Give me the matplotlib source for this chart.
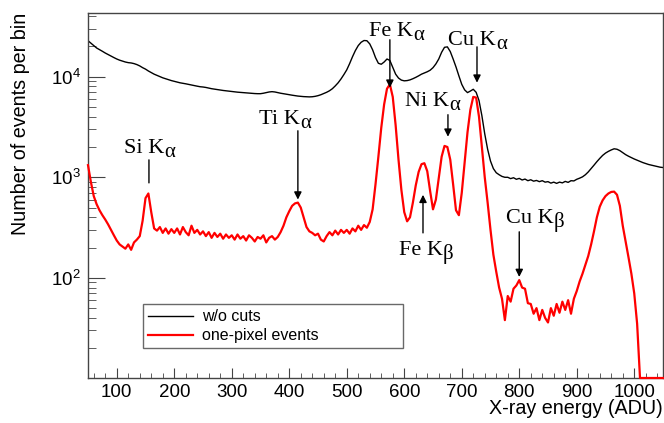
import numpy as np
import matplotlib
matplotlib.use("Agg")
import matplotlib.pyplot as plt
from matplotlib.ticker import MultipleLocator, LogLocator, NullFormatter, FixedLocator
from matplotlib.transforms import offset_copy

plt.rcParams['font.family'] = 'Liberation Sans'
plt.rcParams['mathtext.fontset'] = 'custom'
plt.rcParams['mathtext.rm'] = 'Liberation Sans'

# bin centres (ADU), 5 ADU per bin
energy = np.arange(50, 1051, 5)

# w/o cuts (black)
all_events = [
    22800, 21600, 20400, 19300, 18600, 17900, 17200, 16600, 16000, 15500,
    15000, 14600, 14300, 14000, 13800, 13700, 13500, 13200, 12800, 12300,
    11900, 11400, 11000, 10600, 10300, 10000, 9750, 9550, 9350, 9150,
    9000, 8850, 8700, 8600, 8500, 8380, 8250, 8150, 8050, 7950,
    7900, 7820, 7700, 7600, 7520, 7440, 7380, 7300, 7240, 7180,
    7120, 7070, 7020, 6980, 6940, 6900, 6860, 6830, 6800, 6780,
    6780, 6850, 6950, 7050, 7100, 7050, 6950, 6850, 6780, 6700,
    6620, 6550, 6480, 6420, 6380, 6340, 6320, 6300, 6320, 6380,
    6480, 6620, 6800, 7000, 7250, 7600, 8100, 8700, 9500, 10500,
    11700, 13500, 15800, 18200, 20400, 22000, 22900, 22800, 21200, 18500,
    15500, 13600, 13300, 14000, 15000, 14500, 12400, 10600, 9700, 9250,
    9100, 9150, 9300, 9550, 9850, 10200, 10600, 10900, 11200, 11600,
    12300, 13400, 15000, 17500, 19600, 19800, 17800, 15000, 12500, 10200,
    8400, 7400, 6950, 7200, 7500, 7000, 5800, 4100, 2700, 1900,
    1450, 1220, 1110, 1060, 1020, 1000, 1000, 970, 990, 955,
    975, 940, 960, 925, 945, 915, 930, 905, 925, 895,
    905, 875, 895, 870, 895, 880, 910, 890, 925, 920,
    955, 980, 1010, 1060, 1130, 1220, 1320, 1430, 1540, 1650,
    1740, 1810, 1870, 1920, 1900, 1840, 1760, 1680, 1620, 1570,
    1520, 1480, 1440, 1400, 1370, 1340, 1320, 1300, 1280, 1260,
    1250]

# one-pixel events (red)
one_pixel = [
    1320, 900, 650, 540, 470, 420, 380, 340, 300, 265,
    235, 215, 205, 195, 215, 190, 225, 240, 260, 370,
    620, 690, 450, 310, 295, 320, 280, 310, 275, 305,
    280, 310, 270, 320, 285, 265, 330, 280, 300, 270,
    290, 260, 285, 250, 280, 255, 275, 245, 270, 250,
    265, 240, 270, 245, 260, 235, 265, 250, 230, 255,
    245, 265, 225, 250, 260, 240, 255, 285, 330, 400,
    460, 520, 550, 560, 500, 400, 320, 290, 280, 265,
    275, 240, 230, 260, 285, 265, 295, 270, 300, 280,
    300, 275, 310, 290, 330, 300, 335, 315, 360, 480,
    850, 1600, 3100, 5300, 7600, 8400, 6300, 3300, 1500, 750,
    450, 365, 400, 560, 830, 1130, 1350, 1380, 1150, 730,
    480, 600, 980, 1600, 2050, 2000, 1500, 850, 470, 420,
    700, 1400, 2800, 4700, 6300, 6200, 4000, 2000, 1000, 560,
    300, 170, 115, 80, 62, 38, 66, 58, 78, 84,
    95, 80, 78, 56, 55, 44, 50, 38, 48, 40,
    36, 50, 42, 55, 45, 58, 48, 60, 44, 62,
    74, 92, 110, 135, 165, 215, 290, 400, 510, 590,
    650, 690, 715, 720, 670, 520, 330, 230, 160, 110,
    70, 35, 0, 0, 0, 0, 0, 0, 0, 0,
    0]

# line labels: (name, greek, K|greek junction x, baseline y, arrow x, tail y, tip y, head)
labels = [
    ("Si K", "\u03b1", 182, 1750, 156, 1490, 880, False),
    ("Ti K", "\u03b1", 418.7, 3400, 415, 2900, 600, True),
    ("Fe K", "\u03b1", 615, 25600, 575, 23300, 7770, True),
    ("Cu K", "\u03b1", 759.6, 20800, 726.5, 19800, 8720, True),
    ("Ni K", "\u03b1", 678, 5140, 676, 4190, 2530, True),
    ("Fe K", "\u03b2", 667, 170, 632.6, 280, 670, True),
    ("Cu K", "\u03b2", 860, 352, 800, 287, 102, True),
]

ymin, ymax = 10.1, 43000

fig = plt.figure(figsize=(6.64, 4.23), dpi=100)
ax = fig.add_axes([88/664, 45/423, 575/664, 365/423])

ax.plot(energy, all_events, color='k', lw=1.0, label='w/o cuts')
red = np.array(one_pixel, dtype=float)
red = np.where(red <= 0, ymin, red)
ax.plot(energy, red, color='#ff0000', lw=1.6, label='one-pixel events',
        clip_on=False, zorder=3)

ax.set_yscale('log')
ax.set_xlim(50, 1050)
ax.set_ylim(ymin, ymax)

sub = offset_copy(ax.transData, fig=fig, x=0, y=-4, units='dots')
for name, greek, jx, ty, axx, y0, y1, head in labels:
    ax.text(jx, ty, name, ha='right', va='baseline', fontsize=16,
            family='Liberation Serif')
    ax.text(jx, ty, greek, ha='left', va='baseline', fontsize=15,
            family='Liberation Serif', transform=sub)
    ax.annotate("", xy=(axx, y1), xytext=(axx, y0),
                arrowprops=dict(arrowstyle='-|>' if head else '-',
                                color='k', lw=1.0, mutation_scale=11,
                                shrinkA=0, shrinkB=0))

ax.xaxis.set_major_locator(FixedLocator(np.arange(100, 1001, 100)))
ax.xaxis.set_minor_locator(MultipleLocator(20))
ax.yaxis.set_major_locator(LogLocator(base=10, numticks=10))
ax.yaxis.set_minor_locator(LogLocator(base=10, subs=np.arange(2, 10), numticks=20))
ax.yaxis.set_minor_formatter(NullFormatter())

ax.tick_params(axis='both', which='both', direction='in', top=False,
               right=False, color='#444444', labelsize=13.5)
ax.tick_params(axis='x', which='major', length=7.2, pad=4)
ax.tick_params(axis='x', which='minor', length=3.6)
ax.tick_params(axis='y', which='major', length=12, pad=5)
ax.tick_params(axis='y', which='minor', length=6)
for sp in ax.spines.values():
    sp.set_color('#444444')
    sp.set_linewidth(1.0)

ax.set_xlabel("X-ray energy (ADU)", fontsize=14.2, loc='right')
ax.xaxis.set_label_coords(1.0, -0.058)
ax.set_ylabel("Number of events per bin", fontsize=14.2, loc='top')
ax.yaxis.set_label_coords(-0.100, 1.0)

leg = ax.legend(loc='lower left', bbox_to_anchor=(0.0957, 0.082, 0.452, 0.1205),
                mode='expand', borderaxespad=0, fontsize=11.5, frameon=True,
                fancybox=False, handlelength=2.8, handletextpad=0.6,
                labelspacing=0.25, borderpad=0.3)
leg.get_frame().set_edgecolor('#444444')
leg.get_frame().set_linewidth(1.0)

fig.savefig("out.png", dpi=100)
